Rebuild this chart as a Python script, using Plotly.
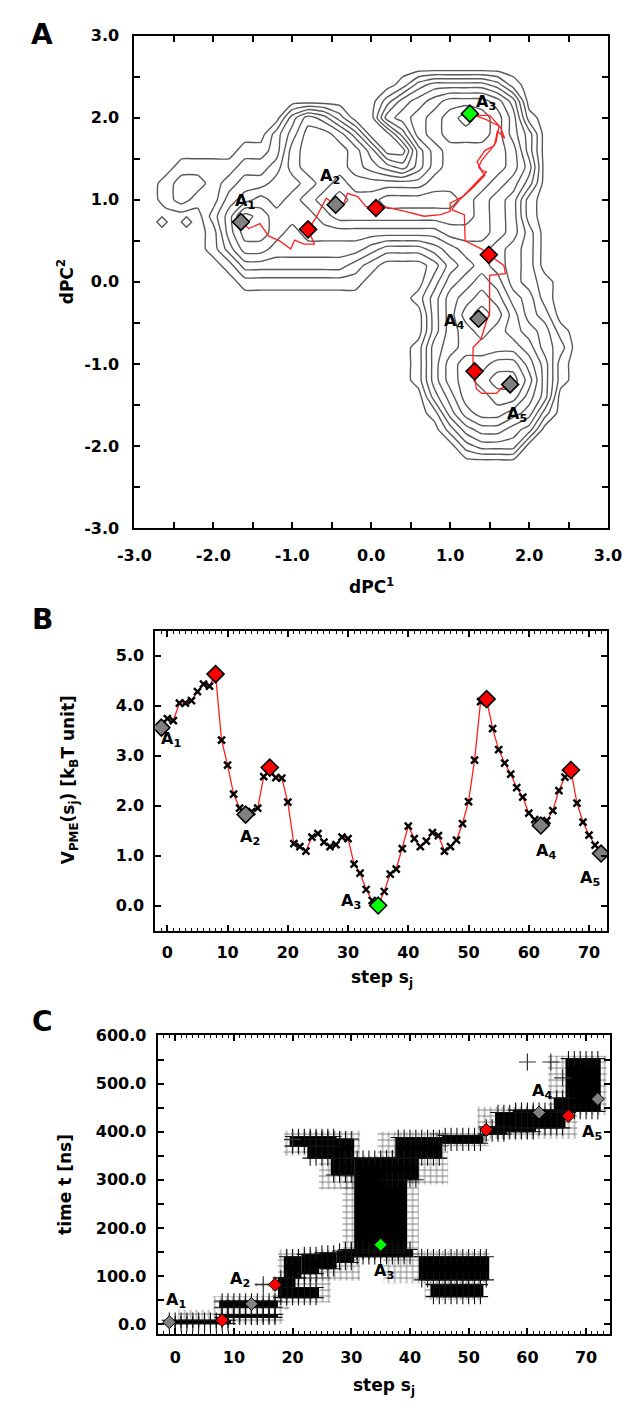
import plotly.graph_objects as go

W, H = 634, 1408

# ---------------- Panel A : density landscape (depth levels) -------------
GRID_X = [-2.8, -2.6, -2.4, -2.2, -2.0, -1.8, -1.6, -1.4, -1.2, -1.0, -0.8, -0.6, -0.4, -0.2,
          0.0, 0.2, 0.4, 0.6, 0.8, 1.0, 1.2, 1.4, 1.6, 1.8, 2.0, 2.2, 2.4, 2.6]
GRID_Y = [2.8, 2.6, 2.4, 2.2, 2.0, 1.8, 1.6, 1.4, 1.2, 1.0, 0.8, 0.6, 0.4, 0.2, 0.0,
          -0.2, -0.4, -0.6, -0.8, -1.0, -1.2, -1.4, -1.6, -1.8, -2.0, -2.2, -2.4]
Z_ROWS = [
    [0,0,0,0,0,0,0,0,0,0,0,0,0,0,0,0,0,0,0,0,0,0,0,0,0,0,0,0],
    [0,0,0,0,0,0,0,0,0,0,0,0,0,0,0,0,0,0,0,0,0,0,0,0,0,0,0,0],
    [0,0,0,0,0,0,0,0,0,0,0,0,0,0,0,0,1,3,4,4,4,4,3,1,0,0,0,0],
    [0,0,0,0,0,0,0,0,0,0,0,0,0,0,0,2,4,5,6,7,7,7,6,4,0,0,0,0],
    [0,0,0,0,0,0,0,0,0,3,5,4,2,0,0,4,5,6,7,8,9,8,7,5,1,0,0,0],
    [0,0,0,0,0,0,0,0,2,4,6,6,5,3,0,0,3,6,7,8,8,8,7,5,3,0,0,0],
    [0,0,0,0,0,0,1,1,2,5,6,6,6,5,3,0,0,4,6,7,7,7,7,6,3,0,0,0],
    [0,0,1,1,1,1,2,2,3,5,6,6,6,5,4,3,2,4,6,7,7,7,7,6,4,0,0,0],
    [0,1,2,2,1,2,3,3,4,4,5,6,7,6,6,6,6,6,7,7,7,7,6,5,3,0,0,0],
    [0,1,2,1,1,3,4,5,4,5,6,7,8,7,7,8,8,8,8,8,7,6,5,4,1,0,0,0],
    [0,0,0,0,2,4,7,6,5,5,5,6,7,7,7,7,7,7,7,7,7,6,5,4,1,0,0,0],
    [0,0,0,0,1,4,6,6,5,4,5,5,5,5,5,5,5,5,5,6,6,6,5,4,2,0,0,0],
    [0,0,0,0,1,3,5,5,4,4,4,4,4,4,3,2,2,2,3,4,5,5,4,3,2,0,0,0],
    [0,0,0,0,0,1,3,3,3,3,3,3,3,2,1,0,0,0,1,3,4,5,4,3,2,0,0,0],
    [0,0,0,0,0,0,1,1,1,1,1,1,1,1,0,0,0,0,2,4,5,6,5,3,2,1,0,0],
    [0,0,0,0,0,0,0,0,0,0,0,0,0,0,0,0,0,1,3,5,6,7,6,4,3,1,0,0],
    [0,0,0,0,0,0,0,0,0,0,0,0,0,0,0,0,0,0,3,5,7,8,7,5,3,2,0,0],
    [0,0,0,0,0,0,0,0,0,0,0,0,0,0,0,0,0,0,3,5,6,7,6,5,4,3,1,0],
    [0,0,0,0,0,0,0,0,0,0,0,0,0,0,0,0,0,1,4,5,6,6,6,6,5,3,2,0],
    [0,0,0,0,0,0,0,0,0,0,0,0,0,0,0,0,0,1,4,6,7,7,8,8,6,4,1,0],
    [0,0,0,0,0,0,0,0,0,0,0,0,0,0,0,0,0,1,4,6,7,8,9,9,7,4,1,0],
    [0,0,0,0,0,0,0,0,0,0,0,0,0,0,0,0,0,0,3,5,7,7,8,8,6,4,0,0],
    [0,0,0,0,0,0,0,0,0,0,0,0,0,0,0,0,0,0,1,4,6,7,7,6,5,2,0,0],
    [0,0,0,0,0,0,0,0,0,0,0,0,0,0,0,0,0,0,0,2,4,5,5,4,3,0,0,0],
    [0,0,0,0,0,0,0,0,0,0,0,0,0,0,0,0,0,0,0,0,2,3,3,3,0,0,0,0],
    [0,0,0,0,0,0,0,0,0,0,0,0,0,0,0,0,0,0,0,0,0,0,0,0,0,0,0,0],
    [0,0,0,0,0,0,0,0,0,0,0,0,0,0,0,0,0,0,0,0,0,0,0,0,0,0,0,0],
]
ISLAND_X = [-2.65, -2.34]
ISLAND_Y = [0.73, 0.73]

PATH_X = [-1.65, -1.55, -1.41, -1.30, -1.16, -1.02, -0.97, -0.85, -0.72, -0.76, -0.80, -0.70,
          -0.61, -0.57, -0.45, -0.36, -0.30, -0.17, -0.07, 0.06, 0.19, 0.43, 0.67, 0.88, 1.00,
          1.00, 1.16, 1.32, 1.46, 1.40, 1.34, 1.44, 1.56, 1.60, 1.69, 1.64, 1.50, 1.32, 1.25,
          1.45, 1.62, 1.58, 1.52, 1.40, 1.36, 1.44, 1.30, 1.12, 1.02, 1.18, 1.19, 1.40, 1.49,
          1.68, 1.70, 1.50, 1.50, 1.46, 1.39, 1.29, 1.29, 1.31, 1.33, 1.40, 1.59, 1.64, 1.76]
PATH_Y = [0.73, 0.65, 0.71, 0.56, 0.50, 0.40, 0.51, 0.46, 0.46, 0.56, 0.64, 0.78,
          0.94, 1.02, 0.94, 0.93, 1.08, 1.04, 0.92, 0.90, 0.91, 0.86, 0.80, 0.82, 0.86,
          0.96, 1.04, 1.20, 1.34, 1.36, 1.46, 1.60, 1.66, 1.84, 1.75, 1.88, 2.03, 2.03, 2.05,
          1.98, 1.90, 1.70, 1.62, 1.48, 1.40, 1.30, 1.16, 1.00, 0.88, 0.82, 0.50, 0.40, 0.33,
          0.20, 0.10, 0.08, -0.38, -0.48, -0.70, -0.80, -1.06, -1.09, -1.30, -1.36, -1.36, -1.30, -1.25]

KEY_COLORS = ['#808080', '#ff0000', '#808080', '#ff0000', '#00ff00', '#ff0000', '#808080', '#ff0000', '#808080']
KEY_PC1 = [-1.65, -0.80, -0.45, 0.06, 1.25, 1.49, 1.36, 1.31, 1.76]
KEY_PC2 = [0.73, 0.64, 0.94, 0.90, 2.05, 0.33, -0.45, -1.09, -1.25]

STATE_TEXT = ['A<sub>1</sub>', 'A<sub>2</sub>', 'A<sub>3</sub>', 'A<sub>4</sub>', 'A<sub>5</sub>']
LABEL_A_X = [-1.60, -0.52, 1.46, 1.05, 1.85]
LABEL_A_Y = [0.98, 1.28, 2.19, -0.48, -1.62]

# ---------------- Panel B : PMF along the string -------------
STEPS = [-1, 0, 1, 2, 3, 4, 5, 6, 7, 8, 9, 10, 11, 12, 13, 14, 15, 16, 17, 18, 19, 20, 21, 22, 23,
         24, 25, 26, 27, 28, 29, 30, 31, 32, 33, 34, 35, 36, 37, 38, 39, 40, 41, 42, 43, 44, 45, 46,
         47, 48, 49, 50, 51, 52, 53, 54, 55, 56, 57, 58, 59, 60, 61, 62, 63, 64, 65, 66, 67, 68, 69,
         70, 71, 72]
V_PME = [3.56, 3.74, 3.70, 4.05, 4.05, 4.10, 4.28, 4.43, 4.39, 4.63, 3.31, 2.81, 2.23, 1.95, 1.82,
         1.88, 1.95, 2.58, 2.76, 2.56, 2.55, 2.07, 1.24, 1.18, 1.09, 1.37, 1.44, 1.27, 1.18, 1.22,
         1.37, 1.34, 0.83, 0.65, 0.32, 0.10, 0.00, 0.28, 0.63, 0.73, 1.14, 1.59, 1.34, 1.18, 1.29,
         1.46, 1.40, 1.09, 1.18, 1.31, 1.64, 2.08, 2.91, 4.08, 4.13, 3.54, 3.12, 2.85, 2.63, 2.36,
         2.17, 1.85, 1.72, 1.60, 1.70, 1.90, 2.30, 2.57, 2.71, 2.05, 1.67, 1.41, 1.21, 1.04]
KEY_STEPS = [-1, 8, 13, 17, 35, 53, 62, 67, 72]
LABEL_B_X = [0.6, 13.7, 30.5, 62.9, 70.1]
LABEL_B_Y = [3.33, 1.37, 0.08, 1.08, 0.55]

# ---------------- Panel C : time of visits per step -------------
KEY_TIMES = [4, 8, 42, 82, 165, 404, 440, 433, 468]
LABEL_C_X = [0.1, 11.0, 35.5, 62.5, 71.0]
LABEL_C_Y = [49, 92, 110, 483, 398]

# dense (solid) clusters of samples: step range and time range
DENSE_S0 = [-1, 8, 8, 18, 18, 19, 22, 25, 28, 31, 29, 20, 23, 27, 36, 38, 46, 53, 55, 58, 67, 65, 42, 44]
DENSE_S1 = [9, 17, 17, 24, 20, 21, 24, 27, 30, 39, 40, 27, 30, 30, 41, 45, 52, 56, 61, 66, 72, 67, 53, 52]
DENSE_T0 = [1, 14, 35, 55, 76, 96, 105, 115, 128, 150, 140, 370, 345, 310, 300, 345, 376, 395, 400, 408, 442, 440, 92, 57]
DENSE_T1 = [8, 20, 48, 76, 96, 140, 145, 148, 152, 345, 155, 390, 385, 345, 346, 388, 392, 410, 440, 445, 552, 470, 140, 82]
# sparse (hatched) clusters
SPARSE_S0 = [1, 7, 14, 17, 18, 29, 19, 25, 35, 44, 52, 64, 36, 43]
SPARSE_S1 = [18, 19, 17, 26, 31, 41, 31, 30, 46, 53, 68, 73, 53, 52]
SPARSE_T0 = [0, 30, 78, 45, 90, 140, 350, 280, 290, 370, 385, 435, 85, 50]
SPARSE_T1 = [30, 58, 86, 100, 155, 350, 402, 350, 400, 398, 452, 558, 152, 88]
STRAY_S = [60, 64, 66, 15, 20]
STRAY_T = [545, 545, 512, 82, 384]

# ---------------- figure -------------
FONT = 'DejaVu Sans, sans-serif'
TICKFONT = dict(family=FONT, size=16, color='black', weight='bold')
LABELFONT = dict(family=FONT, size=16, color='black', weight='bold')


def px_x(p):
    return p / W


def px_y(p):
    return 1 - p / H


fig = go.Figure()

# Panel A
fig.add_trace(go.Contour(
    x=GRID_X, y=GRID_Y[::-1], z=Z_ROWS[::-1],
    contours=dict(start=0.5, end=8.5, size=1, coloring='lines'),
    colorscale=[[0, '#595959'], [1, '#595959']], showscale=False,
    line=dict(width=1.4, smoothing=0.5), hoverinfo='skip',
    xaxis='x', yaxis='y'))
fig.add_trace(go.Scatter(x=ISLAND_X, y=ISLAND_Y, mode='markers',
                         marker=dict(symbol='diamond-open', size=8, color='#595959', line=dict(width=1.4)),
                         xaxis='x', yaxis='y', hoverinfo='skip'))
fig.add_trace(go.Scatter(x=PATH_X, y=PATH_Y, mode='lines', line=dict(color='#ff2020', width=1.3),
                         xaxis='x', yaxis='y', hoverinfo='skip'))
fig.add_trace(go.Scatter(x=KEY_PC1, y=KEY_PC2, mode='markers',
                         marker=dict(symbol='diamond', size=13, color=KEY_COLORS,
                                     line=dict(color='black', width=1.6)),
                         xaxis='x', yaxis='y', hoverinfo='skip'))

# Panel B
fig.add_trace(go.Scatter(x=STEPS, y=V_PME, mode='lines+markers',
                         line=dict(color='#ff2020', width=1.3),
                         marker=dict(symbol='x-thin', size=7, color='black', line=dict(width=2.4, color='black')),
                         xaxis='x2', yaxis='y2', hoverinfo='skip'))
key_v = [V_PME[STEPS.index(s)] for s in KEY_STEPS]
fig.add_trace(go.Scatter(x=KEY_STEPS, y=key_v, mode='markers',
                         marker=dict(symbol='diamond', size=13, color=KEY_COLORS,
                                     line=dict(color='black', width=1.6)),
                         xaxis='x2', yaxis='y2', hoverinfo='skip'))

# Panel C
fig.add_trace(go.Bar(
    x=[(a + b) / 2 for a, b in zip(SPARSE_S0, SPARSE_S1)],
    width=[b - a + 1 for a, b in zip(SPARSE_S0, SPARSE_S1)],
    base=SPARSE_T0, y=[t1 - t0 for t0, t1 in zip(SPARSE_T0, SPARSE_T1)],
    marker=dict(color='rgba(0,0,0,0)', line=dict(width=0),
                pattern=dict(shape='+', fgcolor='#000000', bgcolor='rgba(0,0,0,0)',
                             size=6, solidity=0.3, fillmode='overlay')),
    xaxis='x3', yaxis='y3', hoverinfo='skip'))
fig.add_trace(go.Bar(
    x=[(a + b) / 2 for a, b in zip(DENSE_S0, DENSE_S1)],
    width=[b - a + 1 for a, b in zip(DENSE_S0, DENSE_S1)],
    base=DENSE_T0, y=[t1 - t0 for t0, t1 in zip(DENSE_T0, DENSE_T1)],
    marker=dict(color='black', line=dict(width=0)),
    xaxis='x3', yaxis='y3', hoverinfo='skip'))
# samples sitting on the upper / lower rims of each dense cluster
edge_s, edge_t = [], []
for s0, s1, t0, t1 in zip(DENSE_S0, DENSE_S1, DENSE_T0, DENSE_T1):
    for s in range(s0, s1 + 1):
        edge_s += [s, s]
        edge_t += [t0, t1]
fig.add_trace(go.Scatter(x=edge_s, y=edge_t, mode='markers',
                         marker=dict(symbol='cross-thin', size=11, color='#111',
                                     line=dict(width=1.1, color='#111')),
                         xaxis='x3', yaxis='y3', hoverinfo='skip'))
fig.add_trace(go.Scatter(x=STRAY_S, y=STRAY_T, mode='markers',
                         marker=dict(symbol='cross-thin', size=12, color='#333',
                                     line=dict(width=1.2, color='#333')),
                         xaxis='x3', yaxis='y3', hoverinfo='skip'))
fig.add_trace(go.Scatter(x=KEY_STEPS, y=KEY_TIMES, mode='markers',
                         marker=dict(symbol='diamond', size=10, color=KEY_COLORS,
                                     line=dict(color='black', width=1.0)),
                         xaxis='x3', yaxis='y3', hoverinfo='skip'))

annotations = []
for t, x, y in zip(STATE_TEXT, LABEL_A_X, LABEL_A_Y):
    annotations.append(dict(x=x, y=y, xref='x', yref='y', text=t, showarrow=False, font=LABELFONT))
for t, x, y in zip(STATE_TEXT, LABEL_B_X, LABEL_B_Y):
    annotations.append(dict(x=x, y=y, xref='x2', yref='y2', text=t, showarrow=False, font=LABELFONT))
for t, x, y in zip(STATE_TEXT, LABEL_C_X, LABEL_C_Y):
    annotations.append(dict(x=x, y=y, xref='x3', yref='y3', text=t, showarrow=False, font=LABELFONT))

TITLES = [
    ('A', 18, 18, 0, 28), ('B', 18, 611, 0, 28), ('C', 18, 1018, 0, 28),
    ('dPC<sup>1</sup>', 364, 577, 0, 17), ('dPC<sup>2</sup>', 43, 268, -90, 17),
    ('V<sub>PME</sub>(s<sub>j</sub>) [k<sub>B</sub>T unit]', 47, 773, -90, 17),
    ('step s<sub>j</sub>', 375, 975, 0, 17),
    ('time t [ns]', 42, 1183, -90, 17),
    ('step s<sub>j</sub>', 377, 1388, 0, 17),
]
for t, px, py, ang, fs in TITLES:
    annotations.append(dict(x=px_x(px), y=px_y(py), xref='paper', yref='paper', text=t,
                            showarrow=False, textangle=ang, xanchor='center', yanchor='middle',
                            font=dict(family=FONT, size=fs, color='black', weight='bold')))

base_axis = dict(showline=True, linecolor='black', linewidth=2, mirror='ticks', ticks='inside',
                 tickcolor='black', tickwidth=1.5, showgrid=False, zeroline=False,
                 tickfont=TICKFONT, fixedrange=True)
top_axis = dict(showline=False, ticks='inside', tickcolor='black', showgrid=False, zeroline=False,
                showticklabels=False, fixedrange=True, side='top', tickmode='array',
                tickvals=[0, 10, 20, 30, 40, 50, 60, 70], ticklen=6, tickwidth=1.5,
                minor=dict(dtick=1, tick0=0, ticklen=3, ticks='inside', tickcolor='black', tickwidth=1))

A_TICKS = [-3, -2.5, -2, -1.5, -1, -0.5, 0, 0.5, 1, 1.5, 2, 2.5, 3]
A_TEXT = ['-3.0', '', '-2.0', '', '-1.0', '', '0.0', '', '1.0', '', '2.0', '', '3.0']

fig.update_layout(
    width=W, height=H, margin=dict(l=0, r=0, t=0, b=0),
    paper_bgcolor='white', plot_bgcolor='white', showlegend=False, barmode='overlay',
    xaxis=dict(base_axis, domain=[px_x(115), px_x(613)], range=[-3, 3], anchor='y',
               tickmode='array', tickvals=A_TICKS, ticktext=A_TEXT, ticklen=6, ticklabelstandoff=12),
    yaxis=dict(base_axis, domain=[px_y(518), px_y(19)], range=[-3, 3], anchor='x',
               tickmode='array', tickvals=A_TICKS, ticktext=A_TEXT, ticklen=6, ticklabelstandoff=10),
    xaxis2=dict(base_axis, domain=[px_x(137), px_x(612)], range=[-2, 73], anchor='y2',
                tickmode='array', tickvals=[0, 10, 20, 30, 40, 50, 60, 70], ticklen=6,
                minor=dict(dtick=1, tick0=0, ticklen=3, ticks='inside', tickcolor='black', tickwidth=1),
                ticklabelstandoff=6),
    xaxis4=dict(top_axis, domain=[px_x(137), px_x(612)], range=[-2, 73], anchor='y2', overlaying='x2'),
    yaxis2=dict(base_axis, domain=[px_y(926), px_y(622)], range=[-0.5, 5.5], anchor='x2',
                tickmode='array', tickvals=[0, 1, 2, 3, 4, 5],
                ticktext=['0.0', '1.0', '2.0', '3.0', '4.0', '5.0'], ticklen=6, ticklabelstandoff=6),
    xaxis3=dict(base_axis, domain=[px_x(139.4), px_x(614.6)], range=[-3, 74], anchor='y3',
                tickmode='array', tickvals=[0, 10, 20, 30, 40, 50, 60, 70], ticklen=6,
                minor=dict(dtick=1, tick0=0, ticklen=3, ticks='inside', tickcolor='black', tickwidth=1),
                ticklabelstandoff=8),
    xaxis5=dict(top_axis, domain=[px_x(139.4), px_x(614.6)], range=[-3, 74], anchor='y3', overlaying='x3'),
    yaxis3=dict(base_axis, domain=[px_y(1334.7), px_y(1032)], range=[-20, 601], anchor='x3',
                tickmode='array', tickvals=[0, 50, 100, 150, 200, 250, 300, 350, 400, 450, 500, 550, 600],
                ticktext=['0.0', '', '100.0', '', '200.0', '', '300.0', '', '400.0', '', '500.0', '', '600.0'],
                ticklen=6, ticklabelstandoff=6),
    annotations=annotations,
)
# invisible carriers so the top tick axes are drawn
fig.add_trace(go.Scatter(x=[0], y=[0], mode='markers', marker=dict(opacity=0), xaxis='x4', yaxis='y2',
                         hoverinfo='skip'))
fig.add_trace(go.Scatter(x=[0], y=[0], mode='markers', marker=dict(opacity=0), xaxis='x5', yaxis='y3',
                         hoverinfo='skip'))

fig.write_html('out.html')
